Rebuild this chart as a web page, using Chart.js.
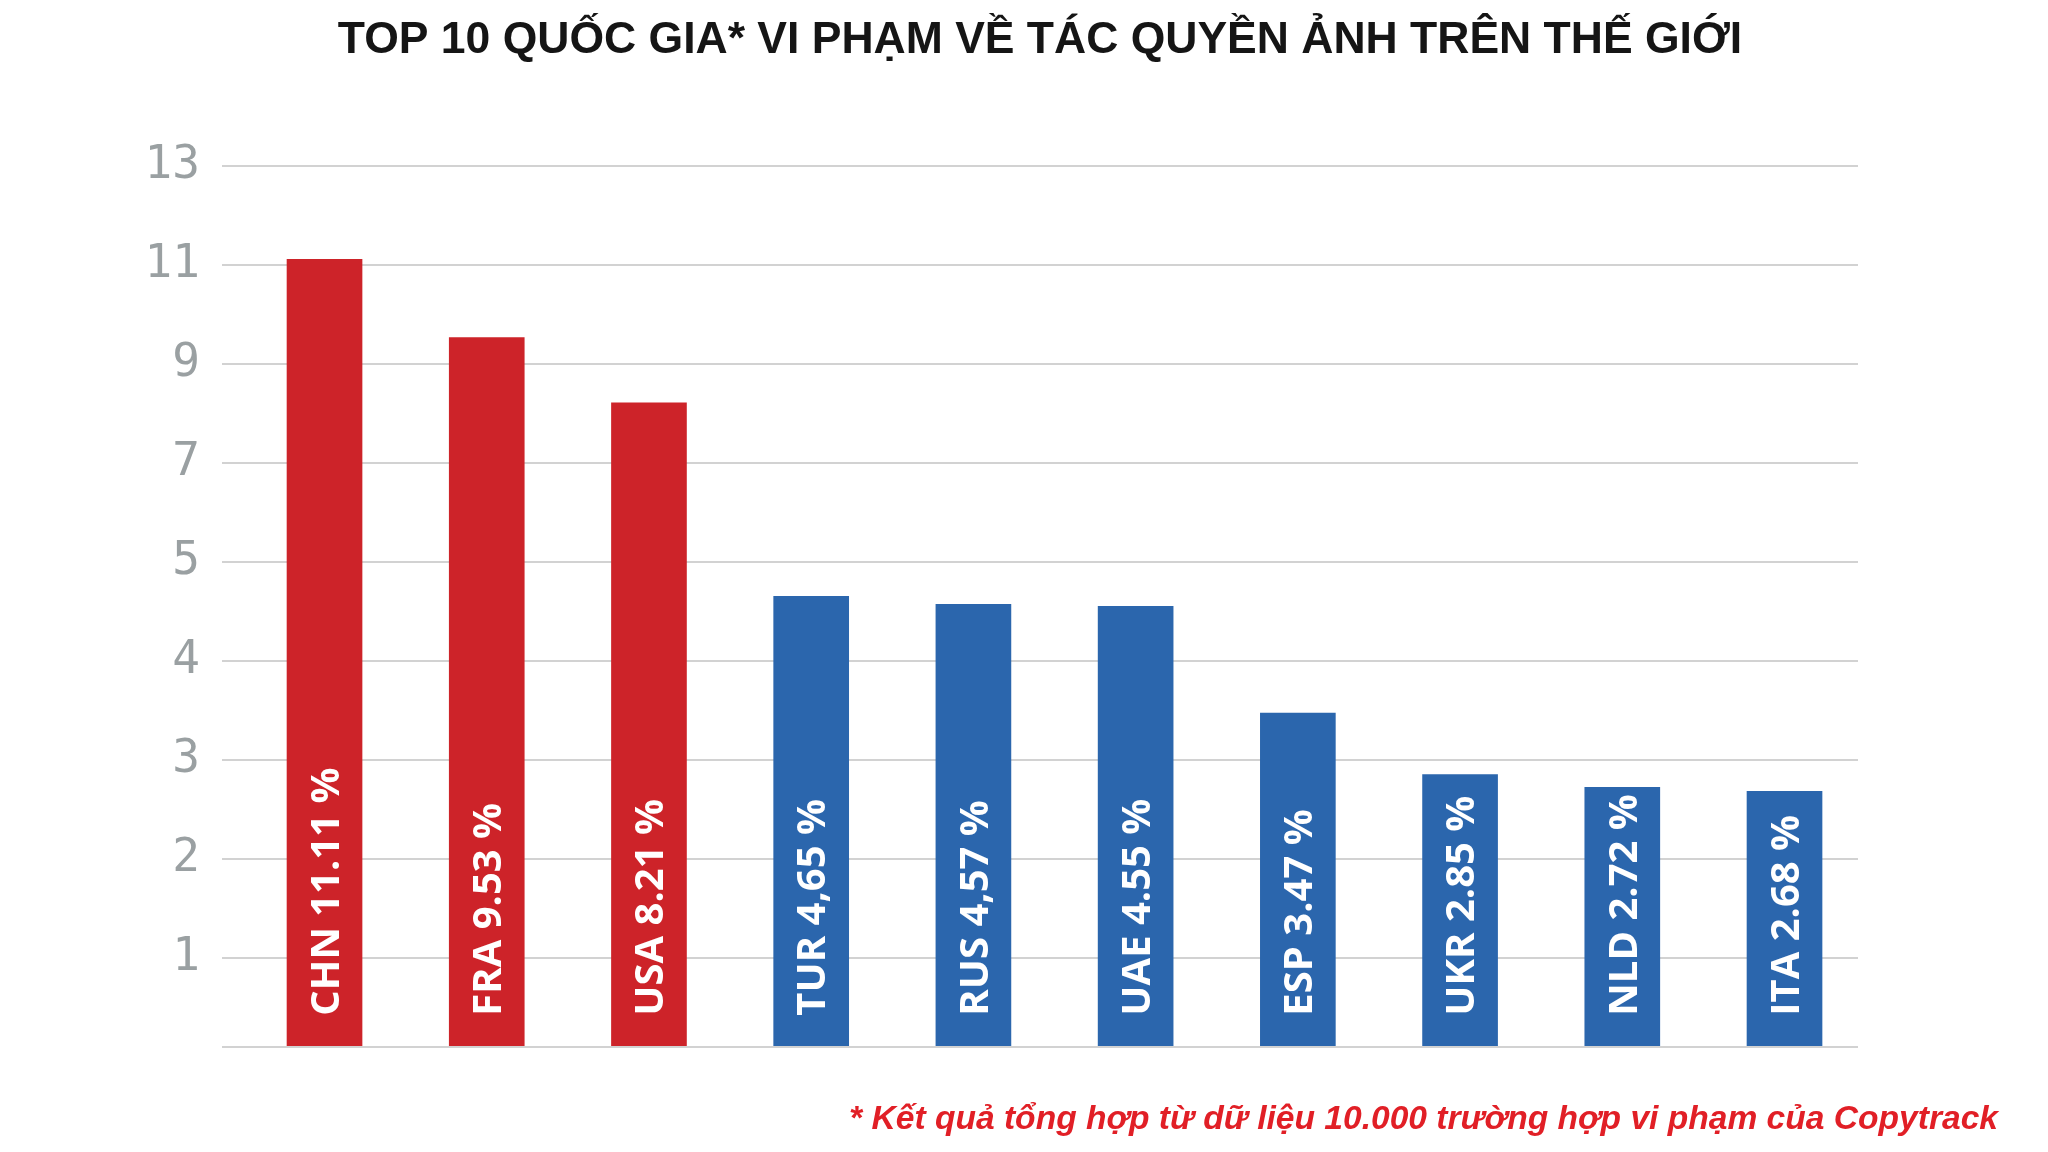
<!DOCTYPE html>
<html>
<head>
<meta charset="utf-8">
<script src="https://cdn.jsdelivr.net/npm/chart.js@4.4.1/dist/chart.umd.min.js"></script>
<style>
  html, body { margin: 0; padding: 0; background: #ffffff; }
  #wrap { width: 2048px; height: 1152px; }
</style>
</head>
<body>
<div id="wrap"><canvas id="c" width="2048" height="1152"></canvas></div>
<script>
// ---- data ----
const categories = ['CHN', 'FRA', 'USA', 'TUR', 'RUS', 'UAE', 'ESP', 'UKR', 'NLD', 'ITA'];
const values = [11.11, 9.53, 8.21, 4.65, 4.57, 4.55, 3.47, 2.85, 2.72, 2.68];
const valueText = ['11.11', '9.53', '8.21', '4,65', '4,57', '4.55', '3.47', '2.85', '2.72', '2.68'];
const tickValues = [0, 1, 2, 3, 4, 5, 7, 9, 11, 13];
const titleText = 'TOP 10 QUỐC GIA* VI PHẠM VỀ TÁC QUYỀN ẢNH TRÊN THẾ GIỚI';
const noteText = '* Kết quả tổng hợp từ dữ liệu 10.000 trường hợp vi phạm của Copytrack';

// ---- styles ----
const RED = '#CD2329';
const BLUE = '#2B66AD';
const HIGHLIGHT_COUNT = 3;
const GRID = '#d2d2d2';
const BASE_GAP = 0.9; // gap (in grid steps) between 0 and the first tick

// piecewise axis: each listed tick is one equal step apart
function toPos(v) {
  if (v <= tickValues[1]) return -BASE_GAP + (v / tickValues[1]) * BASE_GAP;
  for (let i = 1; i < tickValues.length - 1; i++) {
    const a = tickValues[i], b = tickValues[i + 1];
    if (v <= b) return (i - 1) + (v - a) / (b - a);
  }
  const n = tickValues.length;
  return (n - 2) + (v - tickValues[n - 1]) / (tickValues[n - 1] - tickValues[n - 2]);
}
function fromPos(p) {
  if (p <= 0) return (p + BASE_GAP) / BASE_GAP * tickValues[1];
  const i = Math.min(Math.floor(p), tickValues.length - 2);
  const a = tickValues[i + 1], b = tickValues[i + 2] !== undefined ? tickValues[i + 2] : a + 2;
  return a + (p - i) * (b - a);
}

class PiecewiseScale extends Chart.LinearScale {
  static id = 'piecewise';
  static defaults = Chart.LinearScale.defaults;
  buildTicks() {
    return tickValues.map(v => ({ value: v }));
  }
  getPixelForValue(value) {
    if (value === null || value === undefined || isNaN(value)) return NaN;
    const a = toPos(this.min), b = toPos(this.max);
    return this.getPixelForDecimal((toPos(value) - a) / (b - a));
  }
  getValueForPixel(pixel) {
    const a = toPos(this.min), b = toPos(this.max);
    return fromPos(a + this.getDecimalForPixel(pixel) * (b - a));
  }
}
Chart.register(PiecewiseScale);

const barLabels = {
  id: 'barLabels',
  afterDatasetsDraw(chart) {
    const ctx = chart.ctx;
    const meta = chart.getDatasetMeta(0);
    const size = 40;
    ctx.save();
    ctx.fillStyle = '#ffffff';
    ctx.font = 'bold ' + size + 'px "Open Sans", "Noto Sans", sans-serif';
    ctx.textAlign = 'left';
    ctx.textBaseline = 'alphabetic';
    meta.data.forEach((bar, i) => {
      ctx.save();
      ctx.translate(bar.x, bar.base - 30);
      ctx.rotate(-Math.PI / 2);
      ctx.fillText(categories[i] + ' ' + valueText[i] + ' %', 0, size * 0.357);
      ctx.restore();
    });
    ctx.restore();
  }
};

new Chart(document.getElementById('c'), {
  type: 'bar',
  data: {
    datasets: [{
      data: categories.map((c, i) => ({ x: i, y: values[i] })),
      backgroundColor: values.map((v, i) => i < HIGHLIGHT_COUNT ? RED : BLUE),
      borderWidth: 0,
      barThickness: 75
    }]
  },
  options: {
    responsive: false,
    devicePixelRatio: 1,
    animation: false,
    layout: { padding: { left: 0, right: 50, top: 0, bottom: 0 } },
    scales: {
      x: {
        type: 'linear',
        min: -0.632,
        max: 9.453,
        offset: false,
        display: false
      },
      y: {
        type: 'piecewise',
        position: 'left',
        min: 0,
        max: 13,
        afterFit(scale) { scale.width = 222; },
        grid: { color: GRID, lineWidth: 2, drawTicks: false },
        border: { display: false },
        ticks: {
          padding: 22,
          color: '#9aa0a2',
          font: { family: '"DejaVu Sans Mono", "Liberation Mono", monospace', size: 46 },
          autoSkip: false,
          callback: (v) => v === 0 ? '' : String(v)
        }
      },
      y2: {
        type: 'linear',
        position: 'right',
        display: true,
        afterFit(scale) { scale.width = 140; },
        grid: { display: false },
        border: { display: false },
        ticks: { display: false }
      }
    },
    plugins: {
      legend: { display: false },
      tooltip: { enabled: false },
      title: {
        display: true,
        text: titleText,
        fullSize: false,
        color: '#151515',
        font: { family: 'Liberation Sans', size: 44.5, weight: 'bold' },
        padding: { top: 14.5, bottom: 98 }
      },
      subtitle: {
        display: true,
        text: noteText,
        position: 'bottom',
        align: 'end',
        fullSize: true,
        color: '#E11F26',
        font: { family: 'Liberation Sans', size: 33.6, weight: 'bold', style: 'italic' },
        padding: { top: 53, bottom: 12 }
      }
    }
  },
  plugins: [barLabels]
});
</script>
</body>
</html>
